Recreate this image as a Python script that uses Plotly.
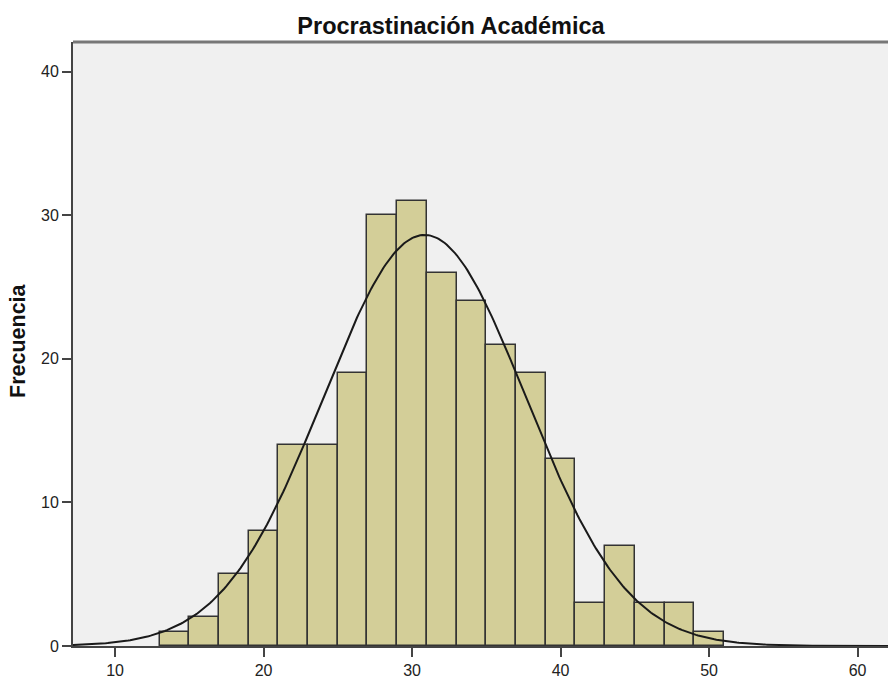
import numpy as np
import plotly.graph_objects as go

bin_starts = [13, 15, 17, 19, 21, 23, 25, 27, 29, 31, 33, 35, 37, 39, 41, 43, 45, 47, 49]
counts = [1, 2, 5, 8, 14, 14, 19, 30, 31, 26, 24, 21, 19, 13, 3, 7, 3, 3, 1]
bin_width = 2
mean_val = 30.85
sd_val = 6.8
x_ticks = [10, 20, 30, 40, 50, 60]
y_ticks = [0, 10, 20, 30, 40]

n = sum(counts)
centers = [b + bin_width / 2 for b in bin_starts]

x_range = [7.17, 62.05]
xs = np.linspace(x_range[0], x_range[1], 400)
ys = n * bin_width / (sd_val * np.sqrt(2 * np.pi)) * np.exp(-0.5 * ((xs - mean_val) / sd_val) ** 2)

fig = go.Figure()
fig.add_trace(go.Bar(
    x=centers, y=counts, width=[bin_width] * len(counts),
    marker=dict(color="#D3CE98", line=dict(color="#333333", width=1.5)),
    hoverinfo="x+y", showlegend=False,
))
fig.add_trace(go.Scatter(
    x=xs, y=ys, mode="lines", line=dict(color="#1a1a1a", width=2),
    showlegend=False, hoverinfo="skip",
))

W, H = 888, 679
fig.update_layout(
    width=W, height=H,
    margin=dict(l=73, r=0, t=42, b=27),
    paper_bgcolor="white",
    plot_bgcolor="#F0F0F0",
    bargap=0,
    font=dict(family="Liberation Sans, Arial, sans-serif", size=16, color="#222"),
    title=dict(text="<b>Procrastinación Académica</b>", x=451 / W, xanchor="center",
               y=1 - 26 / H, yanchor="middle",
               font=dict(size=23.5, color="#111")),
    xaxis=dict(range=x_range, tickvals=x_ticks, ticks="outside", ticklen=9,
               tickcolor="#444", tickwidth=1.5, showgrid=False, zeroline=False, showline=True,
               linecolor="#444", linewidth=1.5, fixedrange=True,
               tickfont=dict(size=16, color="#222")),
    yaxis=dict(range=[0, 42.07], tickvals=y_ticks, ticks="outside", ticklen=9,
               tickcolor="#444", tickwidth=1.5, showgrid=False, zeroline=False, showline=True,
               linecolor="#444", linewidth=2, fixedrange=True,
               tickfont=dict(size=16, color="#222")),
    annotations=[dict(text="<b>Frecuencia</b>", textangle=-90, xref="paper", yref="paper",
                      x=-55 / 815, y=0.505, xanchor="center", yanchor="middle",
                      showarrow=False, font=dict(size=21.5, color="#111"))],
    shapes=[dict(type="line", xref="paper", yref="paper", x0=0, x1=1, y0=1, y1=1,
                 line=dict(color="#777", width=3))],
)

post = (
    "var s=document.createElement('style');"
    "s.textContent='html,body{margin:0!important;padding:0!important;overflow:hidden!important;"
    "height:679px!important;width:888px!important;}"
    "body>div{display:block;height:679px;line-height:0;font-size:0;overflow:hidden;}';"
    "document.head.appendChild(s);"
)

fig.write_html("out.html", config={"displayModeBar": False}, post_script=post)
